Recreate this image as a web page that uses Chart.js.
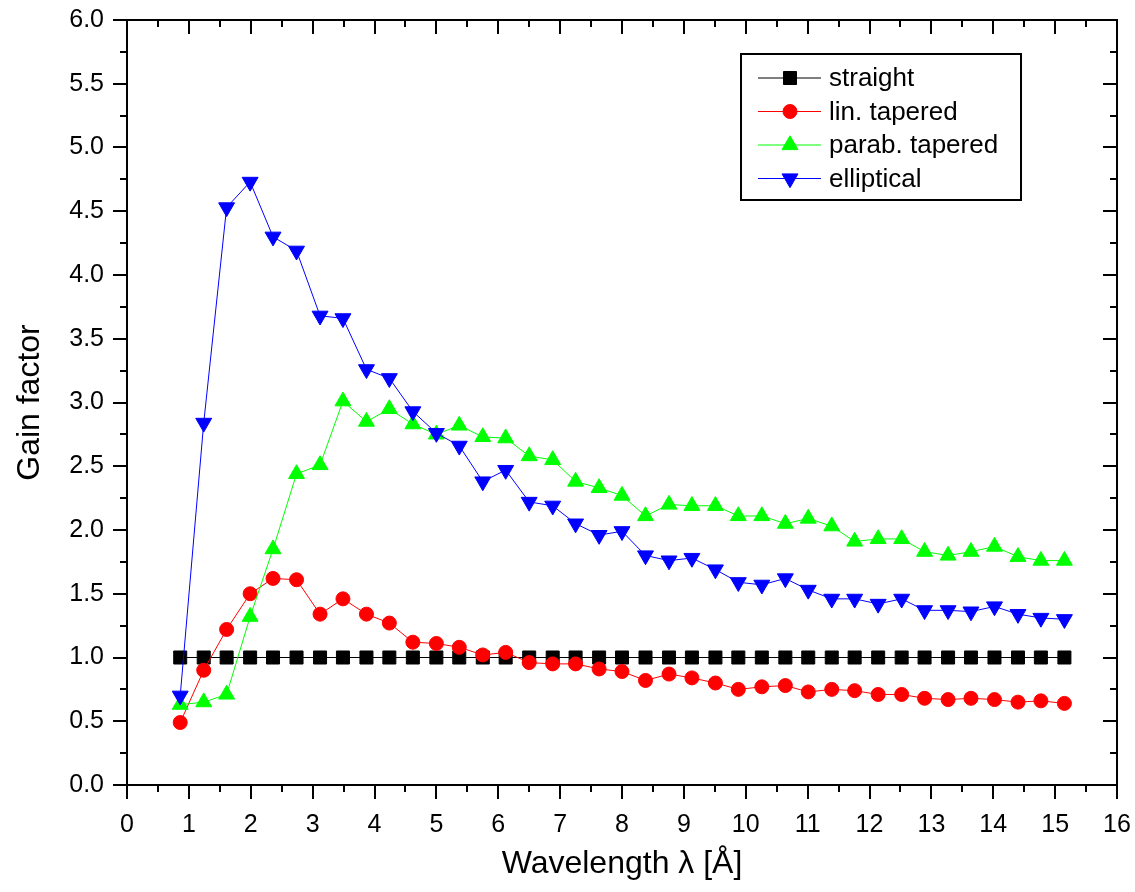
<!DOCTYPE html>
<html>
<head>
<meta charset="utf-8">
<script src="https://cdn.jsdelivr.net/npm/chart.js@4"></script>
<style>
  body { margin: 0; background: #fff; }
</style>
</head>
<body>
<canvas id="gainGraf" width="1135" height="892"></canvas>
<script>
// våglängd [Å] för varje mätpunkt
const wavelength = [0.86, 1.24, 1.61, 1.99, 2.36, 2.74, 3.12, 3.49, 3.87, 4.24,
  4.62, 5.00, 5.37, 5.75, 6.12, 6.50, 6.88, 7.25, 7.63, 8.00,
  8.38, 8.76, 9.13, 9.51, 9.88, 10.26, 10.64, 11.01, 11.39, 11.76,
  12.14, 12.52, 12.89, 13.27, 13.64, 14.02, 14.40, 14.77, 15.15];

const straight = [1.0, 1.0, 1.0, 1.0, 1.0, 1.0, 1.0, 1.0, 1.0, 1.0,
  1.0, 1.0, 1.0, 1.0, 1.0, 1.0, 1.0, 1.0, 1.0, 1.0,
  1.0, 1.0, 1.0, 1.0, 1.0, 1.0, 1.0, 1.0, 1.0, 1.0,
  1.0, 1.0, 1.0, 1.0, 1.0, 1.0, 1.0, 1.0, 1.0];

const linTapered = [0.49, 0.90, 1.22, 1.50, 1.62, 1.61, 1.34, 1.46, 1.34, 1.27,
  1.12, 1.11, 1.08, 1.02, 1.04, 0.96, 0.95, 0.95, 0.91, 0.89,
  0.82, 0.87, 0.84, 0.80, 0.75, 0.77, 0.78, 0.73, 0.75, 0.74,
  0.71, 0.71, 0.68, 0.67, 0.68, 0.67, 0.65, 0.66, 0.64];

const parabTapered = [0.63, 0.65, 0.71, 1.32, 1.85, 2.44, 2.51, 3.01, 2.85, 2.95,
  2.83, 2.75, 2.82, 2.73, 2.72, 2.58, 2.55, 2.38, 2.33, 2.27,
  2.11, 2.20, 2.19, 2.19, 2.11, 2.11, 2.05, 2.09, 2.03, 1.91,
  1.93, 1.93, 1.83, 1.80, 1.83, 1.87, 1.79, 1.76, 1.76];

const elliptical = [0.70, 2.84, 4.53, 4.73, 4.30, 4.19, 3.68, 3.66, 3.26, 3.19,
  2.93, 2.76, 2.66, 2.38, 2.47, 2.22, 2.19, 2.05, 1.96, 1.99,
  1.80, 1.76, 1.78, 1.69, 1.59, 1.57, 1.62, 1.53, 1.46, 1.46,
  1.42, 1.46, 1.37, 1.37, 1.36, 1.40, 1.34, 1.31, 1.30];

const seriesNames = ['straight', 'lin. tapered', 'parab. tapered', 'elliptical'];

const FONT = '"Liberation Sans", Arial, sans-serif';

function punkter(values) {
  return values.map((v, i) => ({ x: wavelength[i], y: v }));
}

function serie(label, values, color, style, radius, rotation, order) {
  return {
    label: label,
    data: punkter(values),
    borderColor: color,
    backgroundColor: color,
    borderWidth: 1,
    pointStyle: style,
    pointRadius: radius,
    pointRotation: rotation,
    pointBackgroundColor: color,
    pointBorderColor: color,
    pointBorderWidth: 1,
    tension: 0,
    order: order
  };
}

// ram runt plotytan med stora och små streck (inåt uppe/höger, utåt nere/vänster)
const ram = {
  id: 'ram',
  afterDatasetsDraw(chart) {
    const { ctx, chartArea: a, scales } = chart;
    const x = scales.x, y = scales.y;
    ctx.save();
    ctx.strokeStyle = '#000';
    ctx.lineWidth = 2;
    ctx.lineCap = 'square';
    ctx.strokeRect(a.left, a.top, a.right - a.left, a.bottom - a.top);
    ctx.lineCap = 'butt';
    ctx.beginPath();
    for (let i = 0; i <= 32; i++) {
      const px = Math.round(x.getPixelForValue(i * 0.5));
      const len = i % 2 === 0 ? 14 : 7;
      ctx.moveTo(px, a.bottom); ctx.lineTo(px, a.bottom + len);
      ctx.moveTo(px, a.top); ctx.lineTo(px, a.top + len);
    }
    for (let i = 0; i <= 24; i++) {
      const py = Math.round(y.getPixelForValue(i * 0.25));
      const len = i % 2 === 0 ? 14 : 7;
      ctx.moveTo(a.left, py); ctx.lineTo(a.left - len, py);
      ctx.moveTo(a.right, py); ctx.lineTo(a.right - len, py);
    }
    ctx.stroke();
    ctx.restore();
  }
};

// egen teckenförklaring: linje + symbol + text
const forklaring = {
  id: 'forklaring',
  afterDraw(chart) {
    const ctx = chart.ctx;
    ctx.save();
    ctx.strokeStyle = '#000';
    ctx.lineWidth = 2;
    ctx.strokeRect(741, 54, 280, 146);
    chart.data.datasets.forEach((ds, i) => {
      const yy = 78 + i * 33.5;
      ctx.lineWidth = 1;
      ctx.strokeStyle = ds.borderColor;
      ctx.beginPath();
      ctx.moveTo(758, yy);
      ctx.lineTo(821, yy);
      ctx.stroke();
      ctx.fillStyle = ds.pointBackgroundColor;
      Chart.helpers.drawPoint(ctx, {
        pointStyle: ds.pointStyle,
        radius: ds.pointRadius,
        rotation: ds.pointRotation,
        borderWidth: 1
      }, 790, yy);
      ctx.fillStyle = '#000';
      ctx.font = '26px ' + FONT;
      ctx.textBaseline = 'middle';
      ctx.textAlign = 'left';
      ctx.fillText(ds.label, 829, yy + 1);
    });
    ctx.restore();
  }
};

const ctx = document.getElementById('gainGraf').getContext('2d');
const gainChart = new Chart(ctx, {
  type: 'line',
  data: {
    datasets: [
      serie(seriesNames[0], straight, '#000000', 'rect', 9.2, 0, 4),
      serie(seriesNames[1], linTapered, '#ff0000', 'circle', 7, 0, 3),
      serie(seriesNames[2], parabTapered, '#00ff00', 'triangle', 9.2, 0, 2),
      serie(seriesNames[3], elliptical, '#0000ff', 'triangle', 9.2, 180, 1)
    ]
  },
  options: {
    responsive: false,
    animation: false,
    events: [],
    layout: { padding: { top: 20, right: 18, left: 0, bottom: 0 } },
    plugins: {
      legend: { display: false },
      tooltip: { enabled: false }
    },
    scales: {
      x: {
        type: 'linear',
        min: 0,
        max: 16,
        grid: { display: false, drawTicks: false },
        border: { display: false },
        ticks: {
          stepSize: 1,
          autoSkip: false,
          maxRotation: 0,
          padding: 25,
          color: '#000',
          font: { size: 25, family: FONT }
        },
        title: {
          display: true,
          text: 'Wavelength λ [Å]',
          color: '#000',
          font: { size: 32, family: FONT },
          padding: { top: 0, bottom: 9 }
        },
        afterFit(s) {
          s.height = 107;
          s.paddingLeft = 0;
          s.paddingRight = 0;
        }
      },
      y: {
        type: 'linear',
        min: 0,
        max: 6,
        grid: { display: false, drawTicks: false },
        border: { display: false },
        ticks: {
          stepSize: 0.5,
          autoSkip: false,
          padding: 23,
          color: '#000',
          font: { size: 25, family: FONT },
          callback: v => v.toFixed(1)
        },
        title: {
          display: true,
          text: 'Gain factor',
          color: '#000',
          font: { size: 32, family: FONT },
          padding: { top: 11, bottom: 0 }
        },
        afterFit(s) {
          s.width = 127;
          s.paddingTop = 0;
          s.paddingBottom = 0;
        }
      }
    }
  },
  plugins: [ram, forklaring]
});
</script>
</body>
</html>
